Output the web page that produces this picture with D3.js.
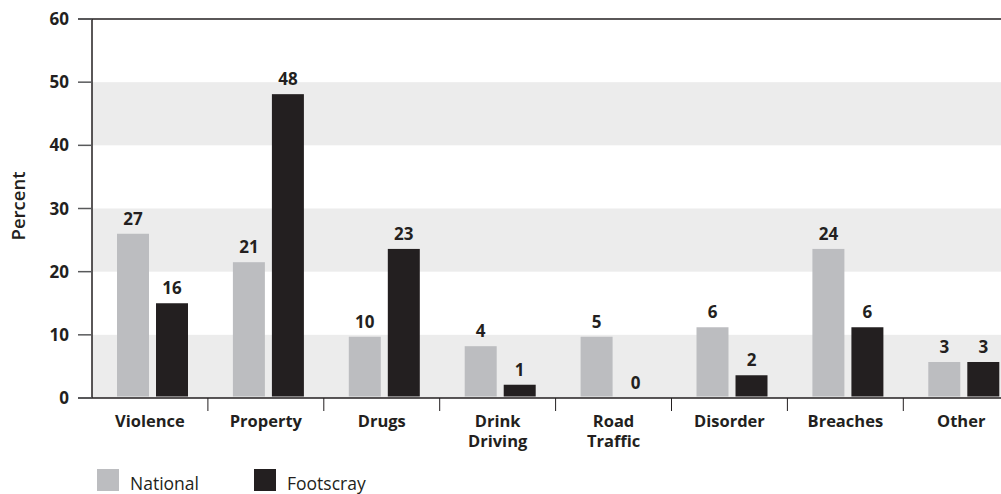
<!DOCTYPE html>
<html>
<head>
  <script src="https://d3js.org/d3.v7.min.js"></script>
  <style>
    body { margin: 0; background: #fff; }
    text { font-family: "Open Sans", "Noto Sans", sans-serif; fill: #231f20; }
  </style>
</head>
<body>
  <div id="chart"></div>
  <script>
    // categories (two-line labels split on "|")
    var categories = ["Violence", "Property", "Drugs", "Drink|Driving", "Road|Traffic", "Disorder", "Breaches", "Other"];
    var series = ["National", "Footscray"];
    // bar heights as drawn in the picture
    var nationalBars = [26, 21.5, 9.7, 8.2, 9.7, 11.2, 23.6, 5.7];
    var footscrayBars = [15, 48.1, 23.6, 2.1, 0, 3.6, 11.2, 5.7];
    // printed labels
    var nationalLabels = [27, 21, 10, 4, 5, 6, 24, 3];
    var footscrayLabels = [16, 48, 23, 1, 0, 2, 6, 3];
    var yTicks = [0, 10, 20, 30, 40, 50, 60];
    var colors = { National: "#bcbdc0", Footscray: "#231f20" };

    var W = 1001, H = 494;
    var plotLeft = 92, plotTop = 19, plotBottom = 398, groupW = 115.9;

    var svg = d3.select("#chart").append("svg")
      .attr("width", W).attr("height", H);

    var y = d3.scaleLinear().domain([0, 60]).range([plotBottom, plotTop]);
    var x0 = d3.scaleBand().domain(categories).range([plotLeft, plotLeft + groupW * categories.length]);
    var x1 = d3.scaleBand().domain(series).range([25, 96]).paddingInner(0.18);

    // alternating bands
    [[0, 10], [20, 30], [40, 50]].forEach(function (b) {
      svg.append("rect")
        .attr("x", plotLeft).attr("width", W - plotLeft)
        .attr("y", y(b[1])).attr("height", y(b[0]) - y(b[1]))
        .attr("fill", "#ececec");
    });

    // data rows
    var rows = categories.map(function (c, i) {
      return {
        cat: c,
        vals: [
          { s: "National", v: nationalBars[i], lab: nationalLabels[i] },
          { s: "Footscray", v: footscrayBars[i], lab: footscrayLabels[i] }
        ]
      };
    });

    var g = svg.selectAll("g.grp").data(rows).enter().append("g")
      .attr("class", "grp")
      .attr("transform", function (d) { return "translate(" + x0(d.cat) + ",0)"; });

    g.selectAll("rect").data(function (d) { return d.vals; }).enter().append("rect")
      .attr("x", function (d) { return x1(d.s); })
      .attr("width", x1.bandwidth())
      .attr("y", function (d) { return y(d.v); })
      .attr("height", function (d) { return Math.max(0, y(0) - 1.5 - y(d.v)); })
      .attr("fill", function (d) { return colors[d.s]; });

    g.selectAll("text.val").data(function (d) { return d.vals; }).enter().append("text")
      .attr("class", "val")
      .attr("x", function (d) { return x1(d.s) + x1.bandwidth() / 2; })
      .attr("y", function (d) { return y(d.v) - 9; })
      .attr("text-anchor", "middle")
      .attr("font-size", 17).attr("font-weight", "bold")
      .text(function (d) { return d.lab; });

    // axes frame
    svg.append("line").attr("x1", plotLeft).attr("x2", plotLeft).attr("y1", plotTop).attr("y2", plotBottom)
      .attr("stroke", "#231f20").attr("stroke-width", 1.5);
    svg.append("line").attr("x1", 78).attr("x2", W).attr("y1", plotTop).attr("y2", plotTop)
      .attr("stroke", "#231f20").attr("stroke-width", 1.5);
    svg.append("line").attr("x1", 78).attr("x2", W).attr("y1", plotBottom).attr("y2", plotBottom)
      .attr("stroke", "#231f20").attr("stroke-width", 1.5);

    svg.selectAll("line.yt").data(yTicks).enter().append("line")
      .attr("class", "yt")
      .attr("x1", 78).attr("x2", plotLeft)
      .attr("y1", function (d) { return y(d); }).attr("y2", function (d) { return y(d); })
      .attr("stroke", "#58595b").attr("stroke-width", 1.5);

    svg.selectAll("text.yl").data(yTicks).enter().append("text")
      .attr("class", "yl")
      .attr("x", 69).attr("y", function (d) { return y(d) + 6; })
      .attr("text-anchor", "end")
      .attr("font-size", 17).attr("font-weight", "bold")
      .text(function (d) { return d; });

    svg.append("text")
      .attr("transform", "translate(25,206) rotate(-90)")
      .attr("text-anchor", "middle")
      .attr("font-size", 18.5).attr("font-weight", 600)
      .text("Percent");

    // group separators
    svg.selectAll("line.sep").data(categories.slice(1)).enter().append("line")
      .attr("class", "sep")
      .attr("x1", function (d) { return x0(d); }).attr("x2", function (d) { return x0(d); })
      .attr("y1", plotBottom).attr("y2", 411)
      .attr("stroke", "#231f20").attr("stroke-width", 1);

    // category labels, one text per line
    var catLines = [];
    categories.forEach(function (c) {
      c.split("|").forEach(function (t, i) { catLines.push({ cat: c, text: t, line: i }); });
    });
    svg.selectAll("text.cat").data(catLines).enter().append("text")
      .attr("class", "cat")
      .attr("x", function (d) { return x0(d.cat) + x0.bandwidth() / 2; })
      .attr("y", function (d) { return 427 + d.line * 20; })
      .attr("text-anchor", "middle")
      .attr("font-size", 16.5).attr("font-weight", "bold")
      .text(function (d) { return d.text; });

    // legend
    var legX = [97, 254];
    series.forEach(function (s, i) {
      svg.append("rect").attr("x", legX[i]).attr("y", 469).attr("width", 22).attr("height", 22)
        .attr("fill", colors[s]);
      svg.append("text").attr("x", legX[i] + 33).attr("y", 490)
        .attr("font-size", 17.5).text(s);
    });
  </script>
</body>
</html>
